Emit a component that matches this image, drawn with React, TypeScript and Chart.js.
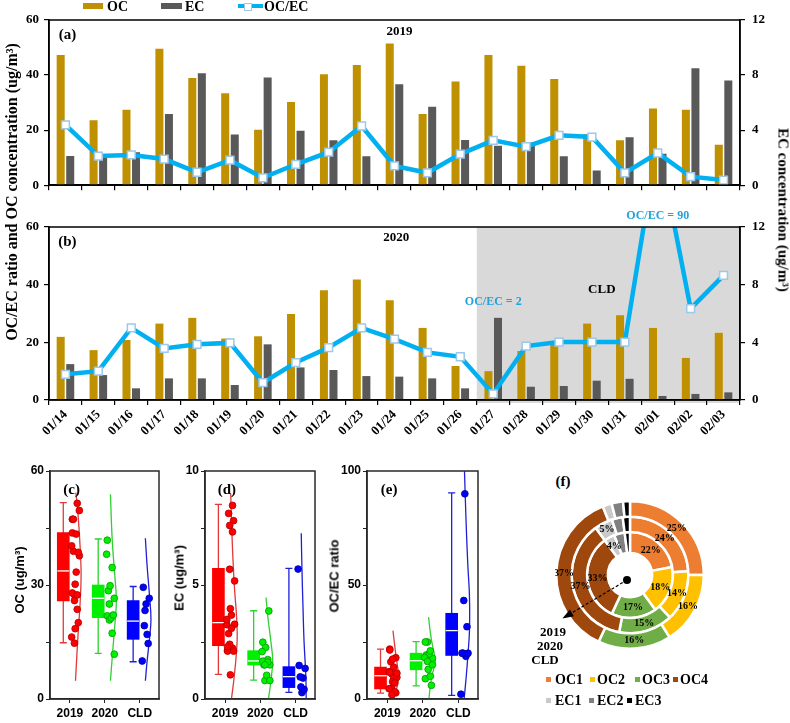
import React, { useEffect, useRef } from "react";
import { Chart, registerables } from "chart.js";

Chart.register(...registerables);

const SERIF = "'Liberation Serif', 'Times New Roman', serif";
const SANS = "'Liberation Sans', Arial, sans-serif";

// ---------------- data: daily series ----------------
const dates = ["01/14", "01/15", "01/16", "01/17", "01/18", "01/19", "01/20", "01/21", "01/22", "01/23", "01/24", "01/25", "01/26", "01/27", "01/28", "01/29", "01/30", "01/31", "02/01", "02/02", "02/03"];

const oc2019 = [47.3, 23.6, 27.4, 49.6, 38.9, 33.4, 20.1, 30.2, 40.3, 43.7, 51.5, 25.9, 37.7, 47.3, 43.4, 38.6, 18.5, 16.3, 27.9, 27.4, 14.7];
const ec2019 = [2.13, 2.23, 2.4, 5.18, 8.14, 3.68, 7.82, 3.96, 3.26, 2.1, 7.33, 5.69, 3.28, 2.87, 3.1, 2.1, 1.06, 3.49, 2.29, 8.49, 7.61];
const ratio2019 = [21.9, 10.6, 11.0, 9.5, 4.7, 9.1, 2.7, 7.6, 12.0, 21.5, 7.0, 4.5, 11.3, 16.3, 14.0, 18.1, 17.5, 4.5, 11.7, 3.1, 1.85];

const oc2020 = [21.9, 17.3, 20.8, 26.5, 28.5, 21.3, 22.1, 29.8, 38.1, 41.8, 34.6, 25.0, 11.8, 10.0, 17.0, 19.3, 26.5, 29.4, 25.0, 14.6, 23.3];
const ec2020 = [2.49, 1.73, 0.81, 1.5, 1.5, 1.04, 3.86, 2.26, 2.08, 1.66, 1.62, 1.5, 0.81, 5.7, 0.92, 0.97, 1.34, 1.47, 0.28, 0.42, 0.53];
const ratio2020 = [8.9, 10.0, 25.0, 17.9, 19.3, 19.8, 6.0, 13.0, 18.2, 25.0, 21.1, 16.5, 15.0, 2.1, 18.7, 20.1, 20.1, 20.1, 90, 31.7, 43.2];

const cldStart = 13; // index of 01/27

// ---------------- data: box plots ----------------
const boxGroups = ["2019", "2020", "CLD"];
// [whisker low, Q1, median, Q3, whisker high]
const ocBox = [[14.8, 25.8, 33.7, 43.8, 51.7], [12.0, 21.4, 26.5, 30.0, 42.1], [9.8, 15.7, 20.5, 25.9, 29.6]];
const ecBox = [[1.08, 2.34, 3.35, 5.73, 8.54], [0.83, 1.49, 1.67, 2.12, 3.87], [0.29, 0.5, 0.98, 1.42, 5.73]];
const ratioBox = [[2.6, 4.4, 10.2, 14.0, 21.9], [5.8, 12.8, 16.8, 20.1, 25.2], [1.6, 19.1, 30.0, 37.6, 90.4]];

// half-violin outlines: [value, bulge to the right]
const ocViolin = [
  [[4.8, 0], [15, 0.06], [25, 0.13], [33, 0.16], [42, 0.12], [50, 0.06], [54.3, 0.01]],
  [[4.8, 0], [12, 0.06], [20, 0.13], [26, 0.17], [33, 0.12], [42, 0.05], [53.9, 0]],
  [[4.8, 0], [10, 0.05], [16, 0.12], [21, 0.16], [27, 0.12], [35, 0.05], [42.3, 0]],
];
const ecViolin = [
  [[0, 0.02], [1, 0.1], [2.5, 0.18], [3.5, 0.17], [5, 0.1], [7, 0.04], [9, 0]],
  [[0, 0.07], [0.8, 0.14], [1.7, 0.19], [2.5, 0.14], [3.5, 0.06], [4.45, 0]],
  [[0, 0.14], [1, 0.13], [2.5, 0.08], [4, 0.05], [5.7, 0.02], [7.27, 0]],
];
const ratioViolin = [
  [[0, 0.02], [5, 0.11], [10, 0.16], [15, 0.12], [22, 0.06], [30, 0]],
  [[0, 0.01], [8, 0.07], [13, 0.14], [17, 0.19], [22, 0.13], [28, 0.06], [35.9, 0]],
  [[0, 0], [10, 0.06], [20, 0.11], [30, 0.15], [45, 0.15], [60, 0.1], [80, 0.05], [100, 0.01]],
];

// ---------------- data: doughnut ----------------
const donutCats = ["OC1", "OC2", "OC3", "OC4", "EC1", "EC2", "EC3"];
const share2019 = [22, 18, 17, 33, 4, 4, 2];
const share2020 = [24, 14, 15, 37, 5, 3, 2];
const shareCLD = [25, 16, 16, 37, 2, 2.5, 1.5];

// ---------------- styles ----------------
const OC_COLOR = "#BF9000";
const EC_COLOR = "#595959";
const RATIO_COLOR = "#00B0F0";
const ANNOT_COLOR = "#22A2DA";
const boxFill = ["#FF0000", "#00F000", "#0000FF"];
const boxLine = ["#E03A3A", "#2FD02F", "#2020D8"];
const dotEdge = ["#B00000", "#009A00", "#0000A0"];
const donutColors = ["#ED7D31", "#FFC000", "#70AD47", "#9E480E", "#C9C9C9", "#808080", "#000000"];
const jitter = [0.07, 0.21, 0.13, 0.27, 0.1, 0.18, 0.24, 0.15, 0.05];
const BOX_SHIFT = -0.19;
const BOX_HALF = 0.17;
const CAP = 0.1;
const VIOLIN_BASE = 0.16;

type TextItem = { text: string; x: number; y: number; size: number; color?: string; family?: string };

const textPlugin = (items: TextItem[]) => ({
  id: "texts",
  afterDraw(chart: any) {
    const ctx = chart.ctx;
    ctx.save();
    items.forEach((t) => {
      const px = chart.scales.x.getPixelForValue(t.x);
      const py = chart.scales.y.getPixelForValue(t.y);
      ctx.font = `bold ${t.size}px ${t.family || SERIF}`;
      ctx.fillStyle = t.color || "#000";
      ctx.textAlign = "center";
      ctx.textBaseline = "middle";
      ctx.fillText(t.text, px, py);
    });
    ctx.restore();
  },
});

const framePlugin = (color: string, width: number) => ({
  id: "frame",
  afterDraw(chart: any) {
    const { left, top, right, bottom } = chart.chartArea;
    const ctx = chart.ctx;
    ctx.save();
    ctx.strokeStyle = color;
    ctx.lineWidth = width;
    ctx.strokeRect(left, top, right - left, bottom - top);
    ctx.restore();
  },
});

const shadePlugin = (fromIndex: number) => ({
  id: "shade",
  beforeDraw(chart: any) {
    const { top, bottom, right } = chart.chartArea;
    const x0 = chart.scales.x.getPixelForValue(fromIndex - 0.5);
    const ctx = chart.ctx;
    ctx.save();
    ctx.fillStyle = "#D9D9D9";
    ctx.fillRect(x0, top, right - x0, bottom - top + 3);
    ctx.restore();
  },
});

function timeConfig(oc: number[], ec: number[], ratio: number[], opts: { labels: boolean; padTop: number; xHeight: number; texts: TextItem[]; shadeFrom?: number }) {
  const axisFont = { family: SERIF, weight: "bold", size: 13 };
  const plugins: any[] = [framePlugin("#000", 1.5), textPlugin(opts.texts)];
  if (opts.shadeFrom !== undefined) plugins.unshift(shadePlugin(opts.shadeFrom));
  const yCommon = (pos: string, max: number, step: number, pad: number, width: number) => ({
    position: pos,
    min: 0,
    max,
    ticks: { stepSize: step, color: "#000", font: axisFont, padding: pad },
    grid: { display: true, drawOnChartArea: false, color: "#000", tickLength: 5, lineWidth: 1.2 },
    border: { display: true, color: "#000", width: 1.5 },
    afterFit: (s: any) => { s.width = width; },
  });
  return {
    type: "bar",
    data: {
      labels: dates,
      datasets: [
        {
          type: "line", label: "OC/EC", data: ratio, yAxisID: "y",
          borderColor: RATIO_COLOR, borderWidth: 4.5, pointStyle: "rect", pointRadius: 5.5,
          pointBackgroundColor: "#fff", pointBorderColor: "#9CC8EA", pointBorderWidth: 1.5,
          order: 0, clip: { left: 10, right: 10, top: 0, bottom: 10 },
        },
        { type: "bar", label: "OC", data: oc, yAxisID: "y", backgroundColor: OC_COLOR, order: 1 },
        { type: "bar", label: "EC", data: ec, yAxisID: "y1", backgroundColor: EC_COLOR, order: 1 },
      ],
    },
    options: {
      responsive: false,
      animation: false,
      events: [],
      layout: { padding: { top: opts.padTop, left: 0, right: 0, bottom: 0 } },
      datasets: { bar: { categoryPercentage: 0.58, barPercentage: 0.84 } },
      plugins: { legend: { display: false }, tooltip: { enabled: false } },
      scales: {
        x: {
          type: "category", offset: true,
          grid: { offset: true, display: true, drawOnChartArea: false, color: "#000", tickLength: 5, lineWidth: 1.2 },
          border: { display: true, color: "#000", width: 1.5 },
          ticks: { display: opts.labels, autoSkip: false, minRotation: 45, maxRotation: 45, color: "#000", font: axisFont, padding: 2 },
          afterFit: (s: any) => { s.height = opts.xHeight; },
        },
        y: yCommon("left", 60, 20, 5, 49),
        y1: yCommon("right", 12, 4, 7, 50),
      },
    },
    plugins,
  };
}

function boxConfig(points: number[][], stats: number[][], violin: number[][][], yMax: number, yStep: number, labelEvery: number, panel: string, padRight: number) {
  const ds: any[] = [];
  stats.forEach((s, g) => {
    const cx = g + 1 + BOX_SHIFT;
    const [lo, , , , hi] = s;
    ds.push({
      type: "line",
      data: [
        { x: cx - CAP, y: lo }, { x: cx + CAP, y: lo }, { x: cx, y: null },
        { x: cx, y: lo }, { x: cx, y: hi }, { x: cx, y: null },
        { x: cx - CAP, y: hi }, { x: cx + CAP, y: hi },
      ],
      borderColor: boxLine[g], borderWidth: 1.3, pointRadius: 0, spanGaps: false, order: 5,
    });
  });
  ds.push({
    type: "bar",
    data: stats.map((s, g) => ({ x: g + 1 + BOX_SHIFT, y: [s[1], s[3]] })),
    backgroundColor: boxFill, barThickness: 12, borderWidth: 0, order: 4,
  });
  stats.forEach((s, g) => {
    const cx = g + 1 + BOX_SHIFT;
    ds.push({
      type: "line",
      data: [{ x: cx - BOX_HALF, y: s[2] }, { x: cx + BOX_HALF, y: s[2] }],
      borderColor: "#FFFFFF", borderWidth: 1.3, pointRadius: 0, order: 3,
    });
  });
  violin.forEach((v, g) => {
    ds.push({
      type: "line",
      data: v.map(([val, b]) => ({ x: g + 1 + VIOLIN_BASE + b, y: val })),
      borderColor: boxLine[g], borderWidth: 1.3, pointRadius: 0, tension: 0.4, order: 2, clip: 0,
    });
  });
  points.forEach((p, g) => {
    ds.push({
      type: "line", showLine: false,
      data: p.map((val, i) => ({ x: g + 1 + jitter[i % jitter.length], y: val })),
      pointRadius: 3.4, pointBackgroundColor: boxFill[g], pointBorderColor: dotEdge[g], pointBorderWidth: 0.8, order: 1,
    });
  });

  const tickFont = { family: SANS, weight: "bold", size: 12 };
  return {
    type: "bar",
    data: { datasets: ds },
    options: {
      responsive: false,
      animation: false,
      events: [],
      layout: { padding: { top: 31, left: 0, right: padRight, bottom: 0 } },
      plugins: { legend: { display: false }, tooltip: { enabled: false } },
      scales: {
        x: {
          type: "linear", min: 0.43, max: 3.55, offset: false,
          grid: { offset: false, display: true, drawOnChartArea: false, color: "#222", tickLength: 4 },
          border: { display: true, color: "#222", width: 1.5 },
          ticks: { color: "#000", font: tickFont, padding: 3, callback: (v: number) => boxGroups[Math.round(v) - 1] ?? "" },
          afterBuildTicks: (s: any) => { s.ticks = boxGroups.map((_, i) => ({ value: i + 1 })); },
          afterFit: (s: any) => { s.height = 24; },
        },
        y: {
          min: 0, max: yMax,
          ticks: {
            stepSize: yStep, color: "#000", font: tickFont, padding: 2,
            callback: (v: number) => (Math.abs(v / labelEvery - Math.round(v / labelEvery)) < 1e-6 ? v : ""),
          },
          grid: { display: true, drawOnChartArea: false, color: "#222", tickLength: 4 },
          border: { display: true, color: "#222", width: 1.5 },
          afterFit: (s: any) => { s.width = 50; },
        },
      },
    },
    plugins: [framePlugin("#2a2a2a", 1.5), textPlugin([{ text: panel, x: 1.05, y: yMax * 0.915, size: 15 }])],
  };
}

const donutDecor = {
  id: "donutDecor",
  afterDatasetsDraw(chart: any) {
    const ctx = chart.ctx;
    ctx.save();
    ctx.font = `bold 10px ${SERIF}`;
    ctx.fillStyle = "#000";
    ctx.textAlign = "center";
    ctx.textBaseline = "middle";
    chart.data.datasets.forEach((d: any, di: number) => {
      const meta = chart.getDatasetMeta(di);
      meta.data.forEach((arc: any, i: number) => {
        const v = d.data[i];
        if (i > 4 || v < 3) return;
        const p = arc.tooltipPosition();
        ctx.fillText(`${v}%`, p.x, p.y);
      });
    });
    const { left, right, top, bottom } = chart.chartArea;
    const cx = (left + right) / 2 - 3;
    const cy = (top + bottom) / 2 + 5;
    const ex = cx - 62, ey = cy + 37;
    ctx.strokeStyle = "#000";
    ctx.lineWidth = 1.2;
    ctx.setLineDash([3, 2]);
    ctx.beginPath();
    ctx.moveTo(cx, cy);
    ctx.lineTo(ex, ey);
    ctx.stroke();
    ctx.setLineDash([]);
    const ang = Math.atan2(ey - cy, ex - cx);
    const hl = 8, hw = 4;
    ctx.beginPath();
    ctx.moveTo(ex + Math.cos(ang) * 3, ey + Math.sin(ang) * 3);
    ctx.lineTo(ex - Math.cos(ang) * hl + Math.sin(ang) * hw, ey - Math.sin(ang) * hl - Math.cos(ang) * hw);
    ctx.lineTo(ex - Math.cos(ang) * hl - Math.sin(ang) * hw, ey - Math.sin(ang) * hl + Math.cos(ang) * hw);
    ctx.closePath();
    ctx.fill();
    ctx.beginPath();
    ctx.arc(cx, cy, 4, 0, Math.PI * 2);
    ctx.fill();
    ctx.restore();
  },
};

function donutConfig() {
  const rings = [
    { label: "CLD", data: shareCLD, weight: 1 },
    { label: "2020", data: share2020, weight: 1 },
    { label: "2019", data: share2019, weight: 1.35 },
  ];
  return {
    type: "doughnut",
    data: {
      labels: donutCats,
      datasets: rings.map((r) => ({ ...r, backgroundColor: donutColors, borderColor: "#fff", borderWidth: 2.5 })),
    },
    options: {
      responsive: false,
      animation: false,
      events: [],
      cutout: "30%",
      layout: { padding: 0 },
      plugins: { legend: { display: false }, tooltip: { enabled: false } },
    },
    plugins: [donutDecor],
  };
}

function ChartCanvas({ left, top, width, height, make }: any) {
  const ref = useRef<HTMLCanvasElement>(null);
  useEffect(() => {
    const chart = new Chart(ref.current as any, make());
    return () => chart.destroy();
  }, []);
  return <canvas ref={ref} width={width} height={height} style={{ position: "absolute", left, top, width, height }} />;
}

function Txt({ x, y, text, size, family = SERIF, rotate = 0, anchor = "center", color = "#000" }: any) {
  const tx = anchor === "left" ? "0" : "-50%";
  return (
    <div
      style={{
        position: "absolute", left: x, top: y,
        transform: `translate(${tx}, -50%) rotate(${rotate}deg)`,
        font: `bold ${size}px ${family}`, color, whiteSpace: "nowrap", lineHeight: 1,
      }}
    >
      {text}
    </div>
  );
}

function Swatch({ x, y, w, h, color, border }: any) {
  return <div style={{ position: "absolute", left: x, top: y, width: w, height: h, background: color, border, boxSizing: "border-box" }} />;
}

export default function App() {
  const ocPts = [oc2019, oc2020.slice(0, cldStart), oc2020.slice(cldStart)];
  const ecPts = [ec2019, ec2020.slice(0, cldStart), ec2020.slice(cldStart)];
  const ratioPts = [ratio2019, ratio2020.slice(0, cldStart), ratio2020.slice(cldStart)];
  const legendRow1 = [
    { i: 0, sx: 546, tx: 555 }, { i: 1, sx: 590, tx: 597 }, { i: 2, sx: 635, tx: 642 }, { i: 3, sx: 673, tx: 680 },
  ];
  const legendRow2 = [{ i: 4, sx: 546, tx: 555 }, { i: 5, sx: 589, tx: 597 }, { i: 6, sx: 627, tx: 635 }];
  return (
    <div style={{ position: "absolute", left: 0, top: 0, width: 790, height: 723, background: "#fff", overflow: "hidden" }}>
      <ChartCanvas
        left={0} top={0} width={790} height={200}
        make={() => timeConfig(oc2019, ec2019, ratio2019, {
          labels: false, padTop: 20, xHeight: 7,
          texts: [{ text: "(a)", x: 0.06, y: 54.4, size: 15 }, { text: "2019", x: 10.15, y: 55.7, size: 13 }],
        })}
      />
      <ChartCanvas
        left={0} top={200} width={790} height={250}
        make={() => timeConfig(oc2020, ec2020, ratio2020, {
          labels: true, padTop: 27, xHeight: 50, shadeFrom: cldStart,
          texts: [
            { text: "(b)", x: 0.06, y: 54.7, size: 15 },
            { text: "2020", x: 10.05, y: 56.4, size: 13 },
            { text: "CLD", x: 16.3, y: 38.4, size: 13 },
            { text: "OC/EC = 2", x: 13, y: 34, size: 12, color: ANNOT_COLOR },
            { text: "OC/EC = 90", x: 18, y: 63.7, size: 12, color: ANNOT_COLOR },
          ],
        })}
      />
      <ChartCanvas left={0} top={440} width={175} height={283} make={() => boxConfig(ocPts, ocBox, ocViolin, 60, 15, 30, "(c)", 16)} />
      <ChartCanvas left={155} top={440} width={175} height={283} make={() => boxConfig(ecPts, ecBox, ecViolin, 10, 2.5, 5, "(d)", 15)} />
      <ChartCanvas left={317} top={440} width={175} height={283} make={() => boxConfig(ratioPts, ratioBox, ratioViolin, 100, 25, 50, "(e)", 14)} />
      <ChartCanvas left={555} top={500} width={150} height={150} make={donutConfig} />

      {/* top legend */}
      <Swatch x={83} y={2.7} w={20} h={6.6} color={OC_COLOR} />
      <Txt x={107} y={6.5} text="OC" size={14} anchor="left" />
      <Swatch x={161} y={2.7} w={21} h={6.6} color={EC_COLOR} />
      <Txt x={185} y={6.5} text="EC" size={14} anchor="left" />
      <Swatch x={238} y={4} w={25} h={4} color={RATIO_COLOR} />
      <Swatch x={244} y={2.5} w={8} h={8} color="#fff" border="1.5px solid #9CC8EA" />
      <Txt x={264} y={6.5} text="OC/EC" size={14} anchor="left" />

      {/* axis titles */}
      <Txt x={12} y={192} text="OC/EC ratio and OC concentration (ug/m³)" size={16} rotate={-90} />
      <Txt x={783} y={210} text="EC concentration (ug/m³)" size={15} rotate={90} />
      <Txt x={19} y={580} text="OC (ug/m³)" size={13} family={SANS} rotate={-90} />
      <Txt x={179} y={578} text="EC (ug/m³)" size={13} family={SANS} rotate={-90} />
      <Txt x={334} y={576} text="OC/EC ratio" size={13} family={SANS} rotate={-90} />

      {/* panel f texts */}
      <Txt x={563} y={481} text="(f)" size={15} />
      <Txt x={553} y={631} text="2019" size={13} />
      <Txt x={550} y={645} text="2020" size={13} />
      <Txt x={545} y={659} text="CLD" size={13} />
      {legendRow1.map((l) => (
        <React.Fragment key={l.i}>
          <Swatch x={l.sx} y={677} w={5} h={5} color={donutColors[l.i]} />
          <Txt x={l.tx} y={679.5} text={donutCats[l.i]} size={14} anchor="left" />
        </React.Fragment>
      ))}
      {legendRow2.map((l) => (
        <React.Fragment key={l.i}>
          <Swatch x={l.sx} y={698} w={5} h={5} color={donutColors[l.i]} />
          <Txt x={l.tx} y={700.7} text={donutCats[l.i]} size={14} anchor="left" />
        </React.Fragment>
      ))}
    </div>
  );
}
